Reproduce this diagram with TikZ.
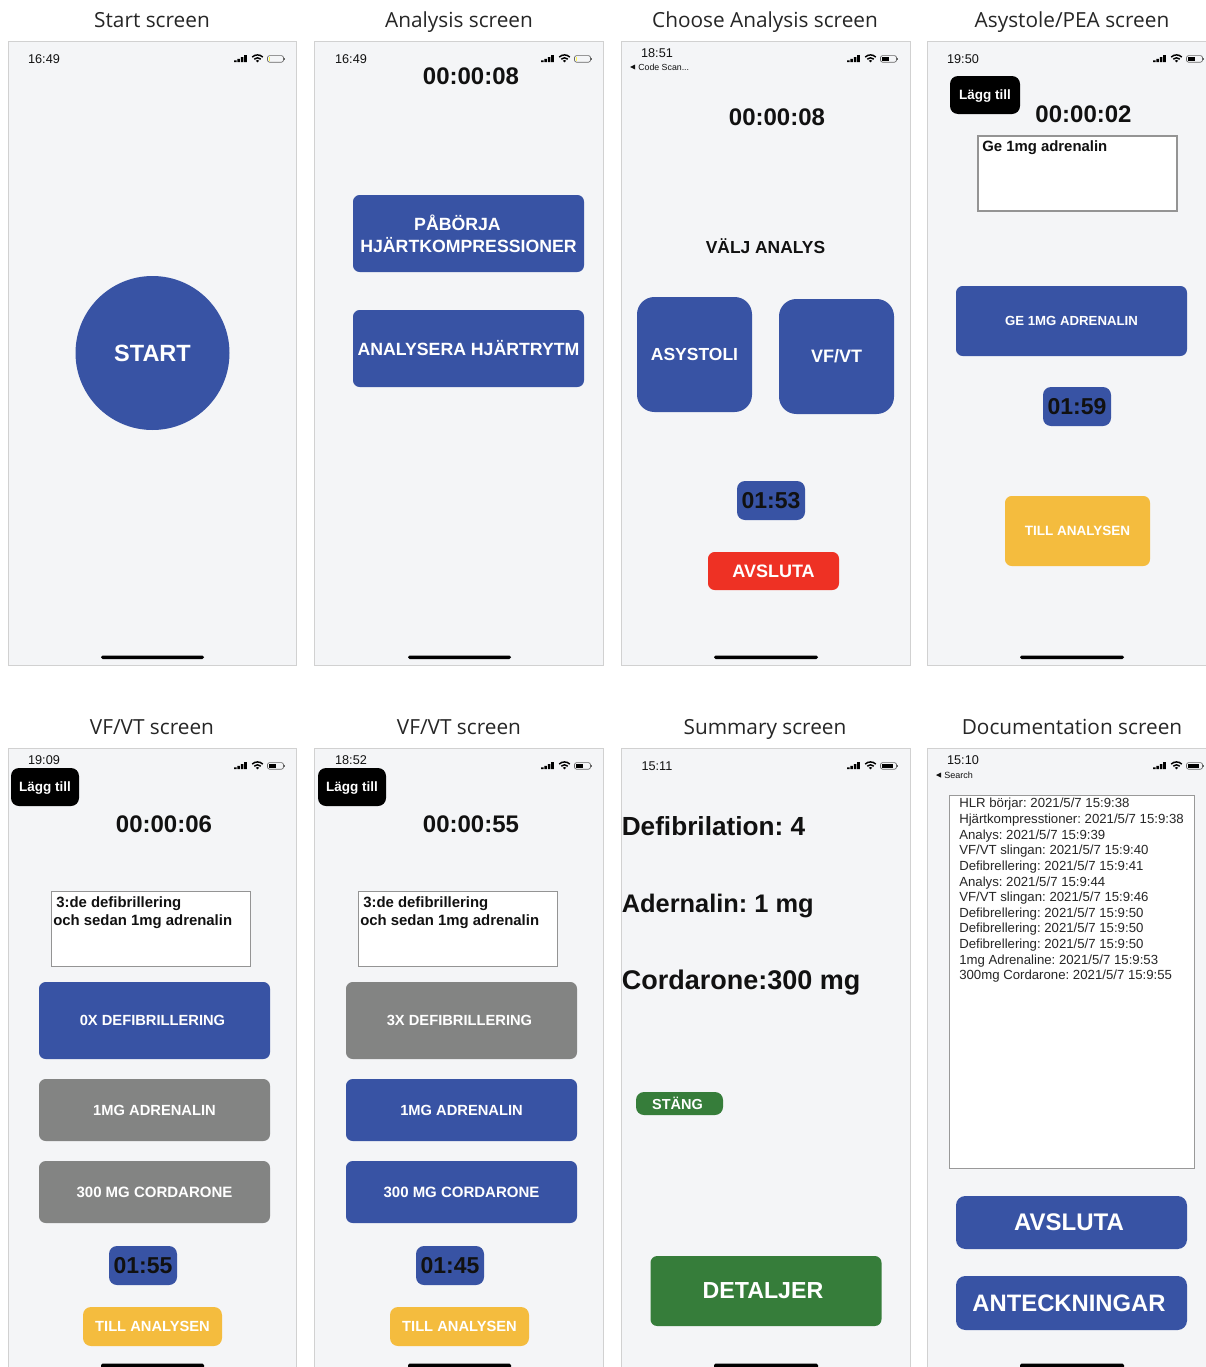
\documentclass[tikz,border=0pt]{standalone}
\usepackage{fontspec}
\setmainfont{Liberation Sans}
\newfontfamily\ttlfont{Open Sans}
\frenchspacing
\definecolor{uiblue}{HTML}{3853A4}
\definecolor{uigrey}{HTML}{838483}
\definecolor{uiyellow}{HTML}{F4BC3E}
\definecolor{uired}{HTML}{EE3124}
\definecolor{uigreen}{HTML}{367D3A}
\definecolor{uibg}{HTML}{F4F5F7}
\definecolor{uiink}{HTML}{111111}
\newcommand\fspx[1]{\pgfmathsetmacro\tmpfs{#1*0.75}\pgfmathsetmacro\tmpls{#1*0.75*1.2}\fontsize{\tmpfs pt}{\tmpls pt}\selectfont}
\newcommand\nodesc[1]{\raisebox{0pt}[\height][0pt]{#1}}
\tikzset{
  screenbox/.style={draw=black!18,line width=0.6pt,fill=uibg},
  ui/.style={rounded corners=#1,inner sep=0pt,align=center,text=white},
  plain/.style={inner sep=0pt,text=uiink},
  msgbox/.style={draw=black!42,line width=1.2pt,fill=white,inner sep=0pt},
  homebar/.style={fill=black,rounded corners=1.2pt},
  iconline/.style={draw=black,line width=1.1pt},
}
% name, cx, cy, w, h, radius, colour, fontpx, text
\newcommand\uibtn[9]{\pgfmathsetmacro\wpt{#4*0.75}\pgfmathsetmacro\hpt{#5*0.75}%
  \node[ui=#6 pt,fill=#7,minimum width=\wpt pt,minimum height=\hpt pt,font=\bfseries\fspx{#8}] (#1) at (#2,#3) {#9};}
% name, cx, cy, text
\newcommand\uitimer[4]{\node[plain,font=\bfseries\fspx{24}] (#1) at (#2,#3) {#4};}
\newcommand\uiclock[4]{\node[plain,font=\fspx{12.7}] (#1) at (#2,#3) {#4};}
\newcommand\uipill[4]{\pgfmathsetmacro\wpt{68*0.75}\pgfmathsetmacro\hpt{39*0.75}%
  \node[ui=6pt,fill=uiblue,text=uiink,minimum width=\wpt pt,minimum height=\hpt pt,font=\bfseries\fspx{23}] (#1) at (#2,#3) {#4};}
% left, centre y, batteryfill colour, frac
\newcommand\uistatus[4]{\begin{scope}[shift={(#1,#2)}]
  \fill[black] (0,1.3) rectangle (2.5,3.2) (3.4,-0.2) rectangle (5.9,3.2) (6.8,-2) rectangle (9.3,3.2) (10.2,-3.8) rectangle (12.8,3.2);
  \begin{scope}[shift={(23.5,3.4)},yscale=-1]
    \draw[iconline] (135:7.5) arc[start angle=135,end angle=45,radius=7.5];
    \draw[iconline] (135:4.6) arc[start angle=135,end angle=45,radius=4.6];
    \fill[black] (0,0) -- (135:2.4) arc[start angle=135,end angle=45,radius=2.4] -- cycle;
  \end{scope}
  \draw[black!60,line width=0.5pt,rounded corners=1.6pt] (33.5,-3.4) rectangle (49.5,3.2);
  \fill[#3] (35,-2) rectangle ({35+#4*13},1.8);
  \fill[black!60] (50.3,-1) rectangle (51.3,0.8);
\end{scope}}
\begin{document}
\begin{tikzpicture}[x=0.75pt,y=-0.75pt]
\useasboundingbox (0,0) rectangle (1206,1367);
\clip (0,0) rectangle (1206,1367);
\fill[white] (0,0) rectangle (1206,1367);
% screens
\draw[screenbox] (8,41) rectangle (296.5,665);
\draw[screenbox] (314,41) rectangle (603.5,665);
\draw[screenbox] (621,41) rectangle (910.5,665);
\draw[screenbox] (927,41) rectangle (1220,665);
\draw[screenbox] (8,748) rectangle (296.5,1380);
\draw[screenbox] (314,748) rectangle (603.5,1380);
\draw[screenbox] (621,748) rectangle (910.5,1380);
\draw[screenbox] (927,748) rectangle (1220,1380);
% home bars
\fill[homebar] (101,655.5) rectangle (204,659);
\fill[homebar] (408,655.5) rectangle (511,659);
\fill[homebar] (714,655.5) rectangle (818,659);
\fill[homebar] (1020,655.5) rectangle (1124,659);
\fill[homebar] (101,1363.5) rectangle (204,1370);
\fill[homebar] (408,1363.5) rectangle (511,1370);
\fill[homebar] (714,1363.5) rectangle (818,1370);
\fill[homebar] (1020,1363.5) rectangle (1124,1370);
% titles
\foreach \nm/\cx/\cy/\tx in {tA/152/27.5/Start screen,tB/459/27.5/Analysis screen,tC/765/27.5/Choose Analysis screen,tD/1072/27.5/Asystole\slash PEA screen,tE/152/734.5/VF\slash VT screen,tF/459/734.5/VF\slash VT screen,tG/765/734.5/Summary screen,tH/1072/734.5/Documentation screen}
  {\node[inner sep=0pt,anchor=base,text=black!85,font=\ttlfont\fspx{20.8}] (\nm) at (\cx,\cy) {\tx};}
% status bars
\uistatus{234}{59}{yellow!70}{0.1}
\uistatus{541}{59}{yellow!70}{0.1}
\uistatus{847}{59}{black}{0.55}
\uistatus{1153}{59}{black}{0.55}
\uistatus{234}{766}{black}{0.55}
\uistatus{541}{766}{black}{0.55}
\uistatus{847}{766}{black}{0.85}
\uistatus{1153}{766}{black}{0.85}
\uiclock{cA}{44}{59}{16:49}
\uiclock{cB}{351}{59}{16:49}
\uiclock{cC}{657}{53}{18:51}
\uiclock{cD}{963}{59}{19:50}
\uiclock{cE}{44}{760}{19:09}
\uiclock{cF}{351}{760}{18:52}
\uiclock{cG}{657}{766}{15:11}
\uiclock{cH}{963}{760}{15:10}
\fill[uiink] (630,67) -- (635,64.5) -- (635,69.5) -- cycle;
\node[plain,anchor=west,font=\fspx{8.8}] (backC) at (638,67.5) {Code Scan...};
\fill[uiink] (936,775) -- (941,772.5) -- (941,777.5) -- cycle;
\node[plain,anchor=west,font=\fspx{9}] (backH) at (944,775) {Search};
% start screen
\node[circle,fill=uiblue,minimum size=115.5pt,inner sep=0pt,text=white,font=\bfseries\fspx{23.5}] (start) at (152.5,353) {START};
% analysis screen
\uitimer{timB}{471}{76}{00:00:08}
\uibtn{comp}{468.5}{233.5}{231}{77}{5}{uiblue}{17.7}{PÅBÖRJA\kern16.5pt\\[0.75pt]HJÄRTKOMPRESSIONER}
\uibtn{hjart}{468.5}{348.5}{231}{77}{5}{uiblue}{17.7}{ANALYSERA HJÄRTRYTM}
% choose analysis
\uitimer{timC}{777}{117}{00:00:08}
\node[plain,font=\bfseries\fspx{17.4}] (valj) at (765.5,246) {VÄLJ ANALYS};
\uibtn{asys}{694.5}{354.5}{115}{115}{13}{uiblue}{17.5}{ASYSTOLI}
\uibtn{vfvt}{836.5}{356.5}{115}{115}{13}{uiblue}{18}{VF\slash VT}
\uipill{pillC}{771}{500.5}{01:53}
\uibtn{avsC}{773.5}{571}{131}{38}{5}{uired}{18}{AVSLUTA}
% asystole
\uibtn{addD}{985}{95}{70}{38}{6}{black}{13.5}{\nodesc{Lägg till}}
\uitimer{timD}{1083.5}{114}{00:00:02}
\node[msgbox,minimum width=149pt,minimum height=56pt] (boxD) at (1077.5,173.5) {};
\node[plain,font=\bfseries\fspx{14.9},anchor=base west] (msgD) at (982,151.5) {Ge 1mg adrenalin};
\uibtn{geD}{1071.5}{321}{231}{70}{5}{uiblue}{13.2}{GE 1MG ADRENALIN}
\uipill{pillD}{1077}{406.5}{01:59}
\uibtn{tillD}{1077.5}{531}{145}{70}{5}{uiyellow}{13.5}{TILL ANALYSEN}
% vf/vt 1
\uibtn{addE}{45}{787}{68}{38}{6}{black}{13.5}{\nodesc{Lägg till}}
\uitimer{timE}{164}{824}{00:00:06}
\node[msgbox,minimum width=149.5pt,minimum height=56.5pt] (boxE) at (151,929) {};
\node[plain,font=\bfseries\fspx{14.9},anchor=base west] (msgE1) at (56,907) {3:de defibrillering};
\node[plain,font=\bfseries\fspx{14.9},anchor=base west] (msgE2) at (53,925.5) {och sedan 1mg adrenalin};
\uibtn{defE}{154.5}{1020.5}{231}{77}{5}{uiblue}{14.7}{0X DEFIBRILLERING\kern3pt}
\uibtn{adrE}{154.5}{1110}{231}{62}{5}{uigrey}{14.7}{1MG ADRENALIN}
\uibtn{corE}{154.5}{1192}{231}{62}{5}{uigrey}{15}{300 MG CORDARONE}
\uipill{pillE}{143}{1265.5}{01:55}
\uibtn{tillE}{152.5}{1326.5}{139}{39}{6}{uiyellow}{14.7}{TILL ANALYSEN}
% vf/vt 2
\uibtn{addF}{352}{787}{68}{38}{6}{black}{13.5}{\nodesc{Lägg till}}
\uitimer{timF}{471}{824}{00:00:55}
\node[msgbox,minimum width=149.5pt,minimum height=56.5pt] (boxF) at (458,929) {};
\node[plain,font=\bfseries\fspx{14.9},anchor=base west] (msgF1) at (363,907) {3:de defibrillering};
\node[plain,font=\bfseries\fspx{14.9},anchor=base west] (msgF2) at (360,925.5) {och sedan 1mg adrenalin};
\uibtn{defF}{461.5}{1020.5}{231}{77}{5}{uigrey}{14.7}{3X DEFIBRILLERING\kern3pt}
\uibtn{adrF}{461.5}{1110}{231}{62}{5}{uiblue}{14.7}{1MG ADRENALIN}
\uibtn{corF}{461.5}{1192}{231}{62}{5}{uiblue}{15}{300 MG CORDARONE}
\uipill{pillF}{450}{1265.5}{01:45}
\uibtn{tillF}{459.5}{1326.5}{139}{39}{6}{uiyellow}{14.7}{TILL ANALYSEN}
% summary
\node[plain,font=\bfseries\fspx{26.2},anchor=base west] (sumA) at (621.5,835.5) {Defibrilation: 4};
\node[plain,font=\bfseries\fspx{25.4},anchor=base west] (sumB) at (621.5,912.5) {Adernalin: 1 mg};
\node[plain,font=\bfseries\fspx{27},anchor=base west] (sumC) at (621.5,989.5) {Cordarone:300 mg};
\uibtn{stang}{679.5}{1103.5}{87}{23}{6}{uigreen}{14.5}{STÄNG\kern3pt}
\uibtn{detal}{766}{1291}{231}{70}{5}{uigreen}{23.2}{DETALJER\kern4.5pt}
% documentation
\node[draw=black!40,line width=0.7pt,fill=white,minimum width=184pt,minimum height=279.7pt,inner sep=0pt] (logbox) at (1071.7,981.5) {};
\node[plain,anchor=north west,align=left,text=black!85,font=\fontsize{9.9pt}{11.73pt}\selectfont] (logtext) at (959,798) {
HLR börjar: 2021/5/7 15:9:38\\
Hjärtkompresstioner: 2021/5/7 15:9:38\\
Analys: 2021/5/7 15:9:39\\
VF/VT slingan: 2021/5/7 15:9:40\\
Defibrellering: 2021/5/7 15:9:41\\
Analys: 2021/5/7 15:9:44\\
VF/VT slingan: 2021/5/7 15:9:46\\
Defibrellering: 2021/5/7 15:9:50\\
Defibrellering: 2021/5/7 15:9:50\\
Defibrellering: 2021/5/7 15:9:50\\
1mg Adrenaline: 2021/5/7 15:9:53\\
300mg Cordarone: 2021/5/7 15:9:55};
\uibtn{avsH}{1071.5}{1222.5}{231}{53}{7}{uiblue}{24}{AVSLUTA\kern3.75pt}
\uibtn{antH}{1071.5}{1303}{231}{54}{7}{uiblue}{23.8}{ANTECKNINGAR\kern3.75pt}
\end{tikzpicture}
\end{document}
